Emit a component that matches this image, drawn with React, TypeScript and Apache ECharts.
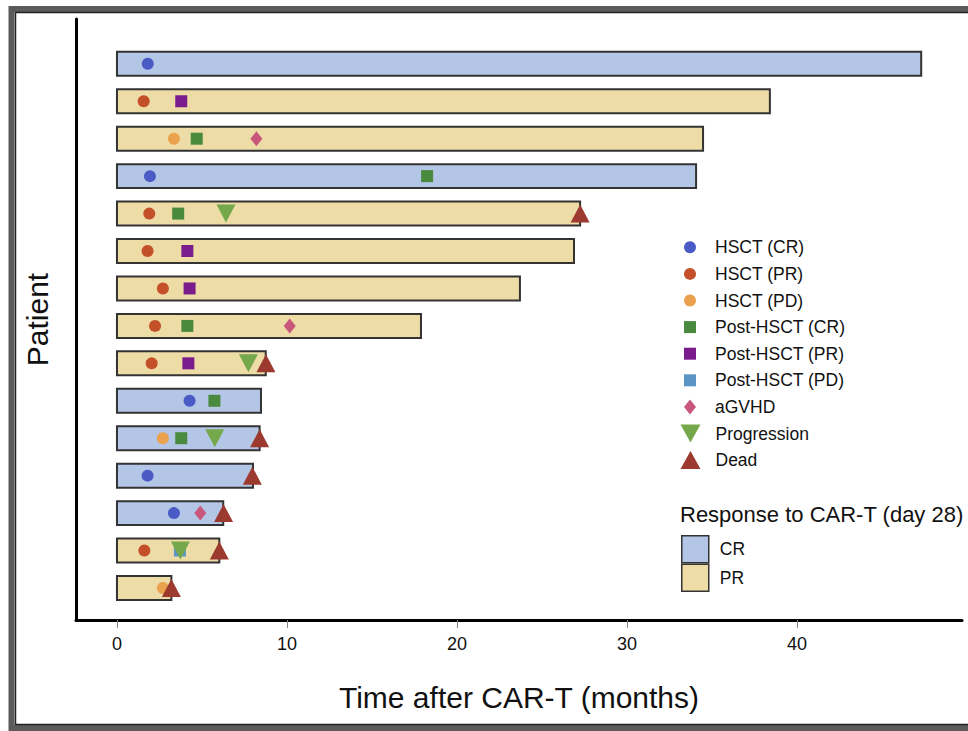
import React, { useEffect, useRef } from "react";
import * as echarts from "echarts";

// ---------- data ----------
const tickValues = [0, 10, 20, 30, 40];
// rows listed from top (1) to bottom (15)
const responses = ["CR", "PR", "PR", "CR", "PR", "PR", "PR", "PR", "PR", "CR", "CR", "CR", "CR", "PR", "PR"];
const followUp = [47.3, 38.4, 34.47, 34.06, 27.24, 26.88, 23.7, 17.88, 8.75, 8.47, 8.39, 8.0, 6.25, 6.02, 3.2];

// events: [months after CAR-T, row from top]
const hsctCR = [[1.81, 1], [1.94, 4], [4.27, 10], [1.8, 12], [3.35, 13]];
const hsctPR = [[1.57, 2], [1.9, 5], [1.8, 6], [2.7, 7], [2.24, 8], [2.04, 9], [1.61, 14]];
const hsctPD = [[3.35, 3], [2.7, 11], [2.7, 15]];
const postCR = [[4.69, 3], [18.24, 4], [3.6, 5], [4.14, 8], [5.73, 10], [3.78, 11]];
const postPR = [[3.78, 2], [4.14, 6], [4.27, 7], [4.2, 9]];
const postPD = [[3.7, 14]];
const aGVHD = [[8.2, 3], [10.16, 8], [4.9, 13]];
const progression = [[6.41, 5], [7.73, 9], [5.75, 11], [3.73, 14]];
const dead = [[27.24, 5], [8.76, 9], [8.39, 11], [7.96, 12], [6.27, 13], [6.02, 14], [3.2, 15]];

const rowCount = responses.length;
const FONT = "'Liberation Sans', Arial, Helvetica, sans-serif";
const NARROW = "'Liberation Sans Narrow', 'Arial Narrow', 'Liberation Sans', Arial, sans-serif";

const toY = (r: number) => rowCount + 1 - r;
const pts = (arr: number[][]) => arr.map(([t, r]) => [t, toY(r)]);

const barsFor = (resp: string) =>
  responses
    .map((r, i) => (r === resp ? [followUp[i], toY(i + 1)] : null))
    .filter((d) => d !== null);

const SQUARE = "path://M0,0 L12,0 L12,12 L0,12 Z";
const DOWN_TRI = "path://M0,0 L20,0 L10,18 Z";
const UP_TRI = "path://M10,0 L20,18 L0,18 Z";
const DIAMOND = "path://M6,0 L12,7.5 L6,15 L0,7.5 Z";

const markerDefs = [
  { name: "HSCT (CR)", data: hsctCR, symbol: "circle", size: 12, w: 12, h: 12, color: "#4a5bc6" },
  { name: "HSCT (PR)", data: hsctPR, symbol: "circle", size: 12, w: 12, h: 12, color: "#c4502a" },
  { name: "HSCT (PD)", data: hsctPD, symbol: "circle", size: 12, w: 12, h: 12, color: "#eba24e" },
  { name: "Post-HSCT (CR)", data: postCR, symbol: SQUARE, size: 12, w: 12, h: 12, color: "#4a8a3e" },
  { name: "Post-HSCT (PR)", data: postPR, symbol: SQUARE, size: 12, w: 12, h: 12, color: "#7a1c8c" },
  { name: "Post-HSCT (PD)", data: postPD, symbol: SQUARE, size: 12, w: 12, h: 12, color: "#5b95c6" },
  { name: "aGVHD", data: aGVHD, symbol: DIAMOND, size: [12, 15], w: 12, h: 15, color: "#c9577b" },
  { name: "Progression", data: progression, symbol: DOWN_TRI, size: [19, 18], w: 19, h: 18, color: "#74a84a" },
  { name: "Dead", data: dead, symbol: UP_TRI, size: [19, 18], w: 19, h: 18, color: "#9c3a30" },
];

const barColors: Record<string, string> = { CR: "#b4c6e6", PR: "#eedca7" };

export default function App() {
  const ref = useRef<HTMLDivElement>(null);

  useEffect(() => {
    if (!ref.current) return;
    const chart = echarts.init(ref.current, null, { renderer: "svg" });

    const barSeries = ["CR", "PR"].map((resp) => ({
      type: "custom",
      name: resp,
      data: barsFor(resp),
      encode: { x: 0, y: 1 },
      itemStyle: { color: barColors[resp], borderColor: "#333", borderWidth: 1.5 },
      renderItem: (params: any, api: any) => {
        const end = api.value(0);
        const y = api.value(1);
        const p0 = api.coord([0, y]);
        const p1 = api.coord([end, y]);
        const h = api.size([0, 0.64])[1];
        return {
          type: "rect",
          shape: { x: p0[0], y: p0[1] - h / 2, width: p1[0] - p0[0], height: h },
          style: { fill: barColors[resp], stroke: "#333", lineWidth: 2 },
        };
      },
      z: 1,
    }));

    const scatterSeries = markerDefs.map((m, i) => ({
      type: "scatter",
      name: m.name,
      data: pts(m.data),
      symbol: m.symbol,
      symbolSize: m.size,
      itemStyle: { color: m.color, opacity: 1 },
      z: 2 + i,
    }));

    const markerLegends = markerDefs.map((m, i) => {
      const cy = 247.3 + i * 26.6;
      return {
        data: [m.name],
        orient: "vertical",
        left: 690 - m.w / 2,
        top: cy - 10,
        padding: 0,
        itemWidth: 40,
        itemHeight: m.h,
        selectedMode: false,
        textStyle: { fontFamily: FONT, fontSize: 17.5, color: "#111", lineHeight: 20 },
      };
    });

    const barLegend = {
      data: ["CR", "PR"],
      orient: "vertical",
      left: 681,
      top: 535,
      padding: 0,
      itemGap: 0,
      itemWidth: 27,
      itemHeight: 27,
      icon: "rect",
      selectedMode: false,
      itemStyle: { borderColor: "#333", borderWidth: 1.5 },
      textStyle: { fontFamily: FONT, fontSize: 17.5, color: "#111", padding: [0, 0, 0, 6] },
    };

    chart.setOption({
      animation: false,
      backgroundColor: "#fff",
      title: {
        text: "Response to CAR-T (day 28)",
        left: 680,
        top: 503,
        padding: 0,
        textStyle: { fontFamily: FONT, fontSize: 22, fontWeight: "normal", color: "#111" },
      },
      grid: { left: 76, right: 6, top: 19, bottom: 111 },
      xAxis: {
        type: "value",
        min: -2.41,
        max: 49.7,
        name: "Time after CAR-T (months)",
        nameLocation: "middle",
        nameGap: 62,
        nameTextStyle: { fontFamily: FONT, fontSize: 30, color: "#111" },
        axisLine: { onZero: false, lineStyle: { color: "#000", width: 3 } },
        axisTick: { show: true, customValues: tickValues, length: 8, lineStyle: { color: "#888", width: 1 } },
        axisLabel: { customValues: tickValues, fontFamily: NARROW, fontSize: 18, color: "#111", margin: 15 },
        splitLine: { show: false },
      },
      yAxis: {
        type: "value",
        min: 0.145,
        max: 16.197,
        name: "Patient",
        nameLocation: "middle",
        nameRotate: 90,
        nameGap: 24,
        nameTextStyle: { fontFamily: FONT, fontSize: 30, color: "#111" },
        axisLine: { show: true, onZero: false, lineStyle: { color: "#000", width: 3 } },
        axisTick: { show: false },
        axisLabel: { show: false },
        splitLine: { show: false },
      },
      legend: [...markerLegends, barLegend],
      graphic: [
        {
          type: "rect",
          silent: true,
          z: 100,
          shape: { x: 11.5, y: 9, width: 1000, height: 719 },
          style: { fill: "none", stroke: "#5b5b5b", lineWidth: 6 },
        },
        {
          type: "rect",
          silent: true,
          z: 100,
          shape: { x: 15.5, y: 12.5, width: 1000, height: 712 },
          style: { fill: "none", stroke: "#222", lineWidth: 1.5 },
        },
      ],
      series: [...barSeries, ...scatterSeries],
    });

    return () => chart.dispose();
  }, []);

  return (
    <div
      ref={ref}
      style={{ position: "fixed", left: 0, top: 0, width: 968, height: 731 }}
    />
  );
}
